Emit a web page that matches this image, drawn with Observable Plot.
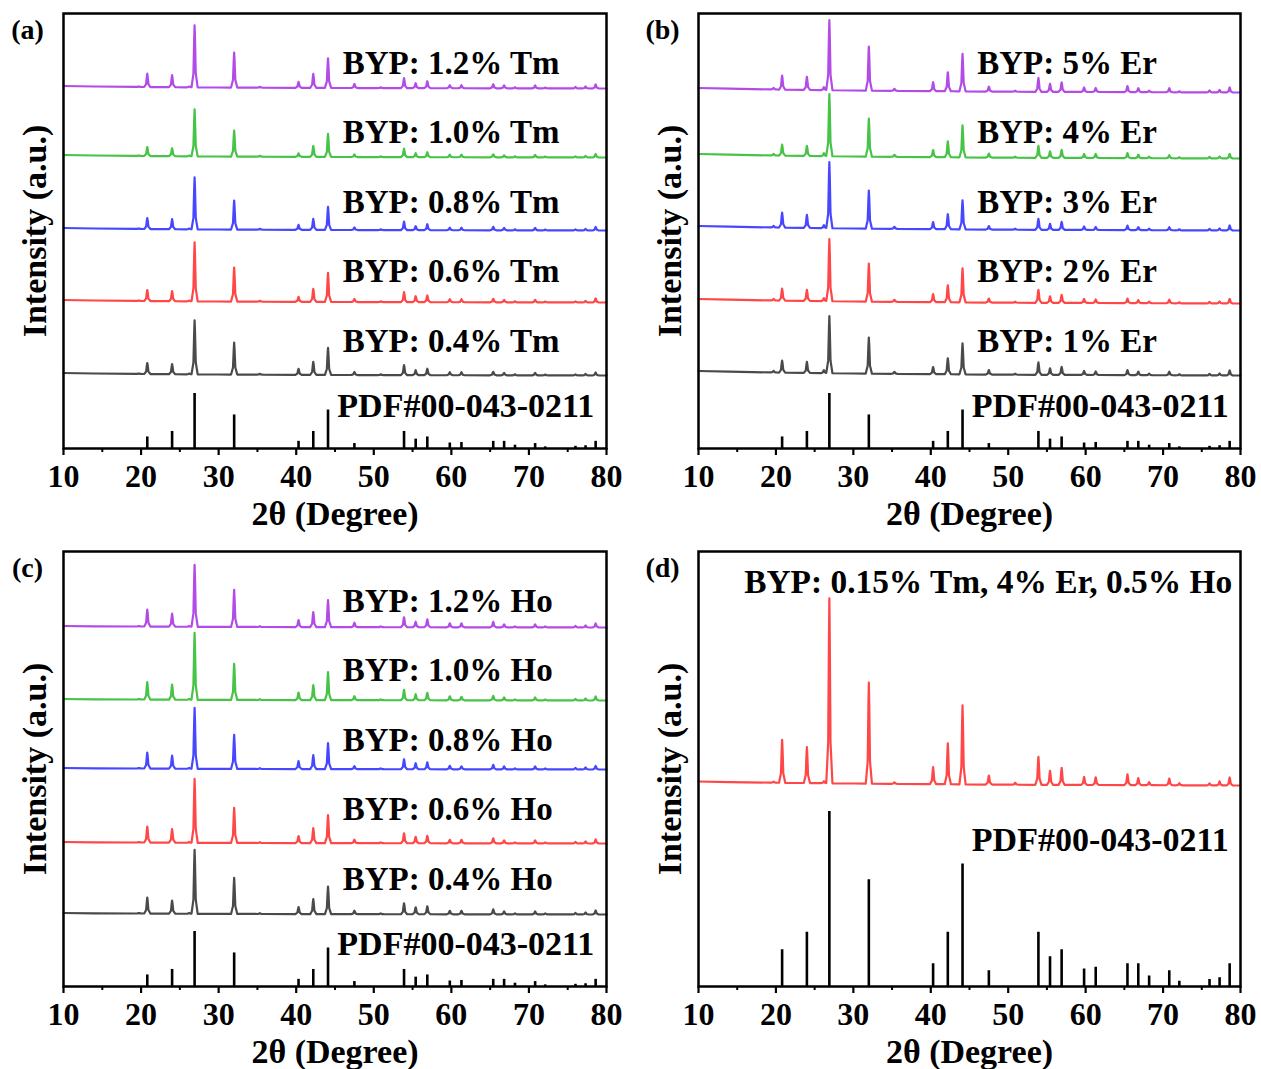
<!DOCTYPE html>
<html>
<head>
<meta charset="utf-8">
<script src="https://cdn.jsdelivr.net/npm/d3@7"></script>
<script src="https://cdn.jsdelivr.net/npm/@observablehq/plot@0.6"></script>
<style>
html, body { margin: 0; padding: 0; background: #fff; overflow: hidden; }
#fig { position: relative; width: 1261px; height: 1069px; background: #fff; }
.panel { position: absolute; }
</style>
</head>
<body>
<div id="fig"></div>
<script>
// ---------- DATA ----------
// Peak positions, 2θ (degree)
const twoTheta = [19.7, 20.8, 24.0, 26.2, 26.9, 32.0, 35.3, 40.3, 42.2, 44.1, 47.5, 50.9, 53.9, 55.4, 56.9, 59.8, 61.3, 65.4, 66.8, 68.2, 70.8, 72.1, 76.0, 77.3, 78.6];
// Standard card PDF#00-043-0211, relative intensity (%)
const pdfIntensity = [0, 21, 31, 0, 100, 61, 0, 13, 31, 70, 9, 0, 31, 17, 21, 10, 11, 13, 13, 6, 9, 3, 4, 5, 13];
const pdfLabel = "PDF#00-043-0211";

// Background anchor angles (degree)
const bgTheta = [10, 14, 20, 30, 50, 80];

// Panel (a): Tm series, bottom to top
const labelsA = ["BYP: 0.4% Tm", "BYP: 0.6% Tm", "BYP: 0.8% Tm", "BYP: 1.0% Tm", "BYP: 1.2% Tm"];
const offsetsA = [73, 146, 218, 291, 360];
const backgroundA = [2.5, 2, 1.5, 1, 0.4, 0];
const heightsA = [
  [0.5, 11, 10, 0.8, 54, 32, 0.8, 6, 13, 27, 3, 0.8, 10, 5, 6.5, 3, 3, 3.5, 2.5, 1, 2.5, 0.8, 1, 1.5, 3],
  [0.5, 11, 10, 0.8, 59, 34, 0.8, 5, 13, 29, 3, 0.8, 10, 6, 6.7, 3, 3, 3.5, 2.5, 1, 2.5, 0.8, 1, 1.5, 4],
  [0.5, 11, 10, 0.8, 52, 29, 0.8, 5, 11, 23, 2.5, 0.8, 8.5, 4, 6, 2.5, 2.5, 3.5, 2.5, 1, 2.5, 0.8, 1, 1.5, 3.5],
  [0.5, 9, 8, 0.8, 47, 26, 0.8, 3.5, 11, 23, 2.5, 0.8, 8.5, 4, 5, 2.5, 2.5, 3, 2, 1, 2.5, 0.8, 1, 1.5, 3.5],
  [0.5, 13.5, 12, 0.8, 62, 35, 0.8, 6, 14, 29.5, 4, 0.8, 10, 5, 7, 3, 3, 4, 3, 1, 3, 0.8, 1.5, 2, 4]
];

// Panel (b): Er series
const labelsB = ["BYP: 1% Er", "BYP: 2% Er", "BYP: 3% Er", "BYP: 4% Er", "BYP: 5% Er"];
const offsetsB = [73, 145, 218, 290, 356];
const backgroundB = [4.5, 3.8, 3, 2, 0.8, 0];
const heightsB = [
  [1.5, 12, 11, 3, 57, 36, 2, 7, 16, 31, 4.5, 1, 12.5, 6.5, 8, 4, 3.5, 5, 3.5, 1.5, 3.5, 1, 1.5, 2, 5],
  [1.5, 12, 11, 3, 62, 38, 2, 8, 17, 34, 4, 1, 13, 6.5, 8, 4, 3.5, 4.5, 3, 1.5, 3.5, 1, 1.5, 2, 4.5],
  [1.5, 15, 13, 3, 66, 38, 2, 7, 15, 29, 3.5, 1, 11, 6, 8, 3.5, 3, 4.5, 3, 1.5, 3, 1, 1.5, 2, 5],
  [1.5, 11, 10, 3, 62, 38, 2, 7, 16, 32, 4, 1, 12, 6.5, 8, 4, 4, 5, 3.5, 1.5, 3, 1, 1.5, 2, 4.5],
  [1.5, 14, 13, 3, 70, 44, 2, 9, 19, 37.5, 5, 1, 14, 8, 9.5, 4.5, 4, 6, 4, 1.5, 4, 1, 2, 2.5, 5]
];

// Panel (c): Ho series
const labelsC = ["BYP: 0.4% Ho", "BYP: 0.6% Ho", "BYP: 0.8% Ho", "BYP: 1.0% Ho", "BYP: 1.2% Ho"];
const offsetsC = [72, 143, 217, 286, 359];
const backgroundC = [1.5, 1.2, 1, 0.6, 0.3, 0];
const heightsC = [
  [0.5, 16, 13, 0.8, 64, 36, 0.8, 7, 15, 27.5, 3.5, 0.8, 11, 7, 8, 3.5, 3.5, 5, 3, 1, 3, 1, 1.5, 2, 4],
  [0.5, 16, 13.5, 0.8, 64, 35, 0.8, 7, 15, 28, 3.5, 0.8, 10, 6.5, 7.5, 3.5, 3.5, 5, 3, 1, 3, 1, 1.5, 2, 4],
  [0.5, 16, 13, 0.8, 61, 34, 0.8, 8, 14, 26, 3, 0.8, 10, 6, 7, 3.5, 3, 4.5, 3, 1, 3, 1, 1.5, 2, 3.5],
  [0.5, 17.5, 15, 0.8, 67, 36, 0.8, 7.5, 15, 28, 4, 0.8, 10.5, 6, 7.5, 4, 3.5, 4.5, 3, 1, 3, 1, 1.5, 2, 4],
  [0.5, 17, 13, 0.8, 62, 37, 0.8, 7, 15, 27, 4.5, 0.8, 10, 5.5, 8, 4, 4, 5.5, 3, 1, 3, 1, 1.5, 2, 4]
];

// Panel (d): co-doped sample
const labelsD = ["BYP: 0.15% Tm, 4% Er, 0.5% Ho"];
const offsetsD = [201];
const backgroundD = [4, 3.4, 2.8, 2, 0.8, 0];
const heightsD = [
  [1, 43, 36, 2, 185, 101, 1.5, 17, 41, 79, 9, 2, 28, 14, 17, 8, 7.7, 10.7, 7, 3, 6.7, 2, 2, 4, 8]
];

const xTicks = [10, 20, 30, 40, 50, 60, 70, 80];
const xMinorTicks = [15, 25, 35, 45, 55, 65, 75];

// ---------- STYLE ----------
const seriesColors = ["#4a4a4a", "#ff4747", "#4747ff", "#47c347", "#b34ce6"];
const redColor = "#ff4747";
const FONT = "'Times New Roman', 'Liberation Serif', serif";

// peak profile shape (line geometry)
const profD = [-0.4, -0.15, -0.05, 0, 0.05, 0.15, 0.4];
const profF = [0, 0.22, 0.8, 1, 0.8, 0.22, 0];
const profScale = d3.scaleLinear(profD, profF);
function shape(d) { return (d <= -0.4 || d >= 0.4) ? 0 : profScale(d); }

function buildTrace(heights, offset, bg) {
  const bgAt = d3.scaleLinear(bgTheta, bg);
  const xs = [...bgTheta];
  twoTheta.forEach((p, i) => { if (heights[i] > 0) profD.forEach(d => xs.push(p + d)); });
  xs.sort((a, b) => a - b);
  return xs.map(x => ({
    x,
    y: offset + bgAt(x) + d3.sum(twoTheta, (p, i) => heights[i] * shape(x - p))
  }));
}

const pdfData = twoTheta.map((t, i) => ({theta: t, I: pdfIntensity[i]})).filter(d => d.I > 0);

function makePanel({left, top, width, height, marginRight, marginBottom, tag, labels, offsets, heights, background, colors, refScale, mode}) {
  const marks = [];
  marks.push(Plot.ruleX(pdfData, {x: "theta", y1: 0, y2: d => d.I * refScale, stroke: "#000", strokeWidth: 2.6}));
  heights.forEach((h, i) => {
    marks.push(Plot.line(buildTrace(h, offsets[i], background), {x: "x", y: "y", stroke: colors[i], strokeWidth: 2.2, strokeLinejoin: "round"}));
  });
  marks.push(Plot.frame({stroke: "#000", strokeWidth: 2.5}));
  marks.push(Plot.axisX({ticks: xTicks, tickFormat: d => String(d), tickSize: 7, tickPadding: 9, fontSize: 32, fontWeight: "bold", strokeWidth: 2.2, label: null}));
  marks.push(Plot.axisX({ticks: xMinorTicks, tickSize: 4, fill: "none", strokeWidth: 2, label: null}));
  if (mode === "stack") {
    marks.push(Plot.text(labels, {x: 46, y: (d, i) => 97 + 69.5 * i, text: d => d, textAnchor: "start", lineAnchor: "bottom", fontSize: 33, fontWeight: "bold", fill: "#000"}));
    marks.push(Plot.text([pdfLabel], {x: 45.3, y: 32, text: d => d, textAnchor: "start", lineAnchor: "bottom", fontSize: 34, fontWeight: "bold", fill: "#000"}));
  } else {
    marks.push(Plot.text(labels, {x: 15.9, y: 394, text: d => d, textAnchor: "start", lineAnchor: "bottom", fontSize: 33.4, fontWeight: "bold", fill: "#000"}));
    marks.push(Plot.text([pdfLabel], {x: 45.3, y: 136, text: d => d, textAnchor: "start", lineAnchor: "bottom", fontSize: 34, fontWeight: "bold", fill: "#000"}));
  }
  marks.push(Plot.text([tag], {frameAnchor: "top-left", dx: -36, dy: 25, text: d => d, textAnchor: "middle", lineAnchor: "bottom", fontSize: 28, fontWeight: "bold", fill: "#000"}));
  marks.push(Plot.text(["Intensity (a.u.)"], {frameAnchor: "left", dx: -28, rotate: -90, text: d => d, textAnchor: "middle", lineAnchor: "middle", fontSize: 34, fontWeight: "bold", fill: "#000"}));
  marks.push(Plot.text(["2θ (Degree)"], {frameAnchor: "bottom", dy: 76, text: d => d, textAnchor: "middle", lineAnchor: "bottom", fontSize: 34, fontWeight: "bold", fill: "#000"}));

  const svg = Plot.plot({
    width, height,
    marginLeft: 63, marginRight, marginTop: 13, marginBottom,
    x: {domain: [10, 80]},
    y: {domain: [0, 435], axis: null},
    style: {fontFamily: FONT, fontWeight: "bold", color: "#000", background: "transparent", overflow: "visible"},
    marks
  });
  const div = document.createElement("div");
  div.className = "panel";
  div.style.left = left + "px";
  div.style.top = top + "px";
  div.appendChild(svg);
  document.getElementById("fig").appendChild(div);
}

makePanel({left: 0, top: 0, width: 630, height: 540, marginRight: 24, marginBottom: 92, tag: "(a)",
  labels: labelsA, offsets: offsetsA, heights: heightsA, background: backgroundA, colors: seriesColors, refScale: 0.55, mode: "stack"});
makePanel({left: 635, top: 0, width: 626, height: 540, marginRight: 21, marginBottom: 92, tag: "(b)",
  labels: labelsB, offsets: offsetsB, heights: heightsB, background: backgroundB, colors: seriesColors, refScale: 0.55, mode: "stack"});
makePanel({left: 0, top: 538, width: 630, height: 531, marginRight: 24, marginBottom: 83, tag: "(c)",
  labels: labelsC, offsets: offsetsC, heights: heightsC, background: backgroundC, colors: seriesColors, refScale: 0.55, mode: "stack"});
makePanel({left: 635, top: 538, width: 626, height: 531, marginRight: 21, marginBottom: 83, tag: "(d)",
  labels: labelsD, offsets: offsetsD, heights: heightsD, background: backgroundD, colors: [redColor], refScale: 1.75, mode: "single"});
</script>
</body>
</html>
